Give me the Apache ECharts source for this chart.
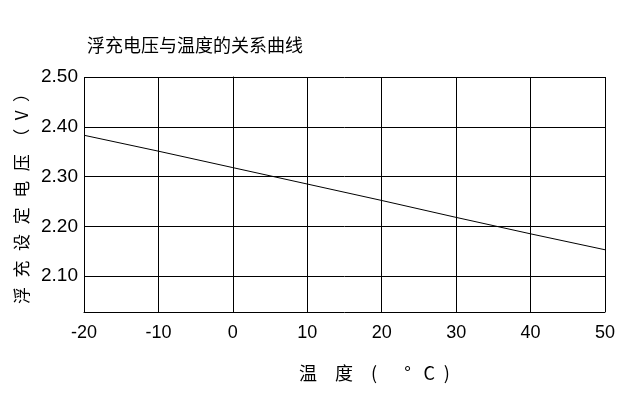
<!DOCTYPE html>
<html>
<head>
<meta charset="utf-8">
<script src="https://cdn.jsdelivr.net/npm/echarts@6/dist/echarts.min.js"></script>
<style>html,body{margin:0;padding:0;background:#fff}#c{width:624px;height:404px}</style>
</head>
<body>
<div id="c"></div>
<script>
var titleText = "浮充电压与温度的关系曲线";
var xAxisName = "温\u3000度\u2003(\u2003\u2002°\u2002\u2009C\u2002)";
var yAxisName = "浮\u2002\u200A充\u2002\u200A设\u2002\u200A定\u2002\u200A电\u2002\u200A压\u2002（\u2002V\u2002）";
var temperatures = [-20, -10, 0, 10, 20, 30, 40, 50];
var voltages = [2.383, 2.351, 2.318, 2.285, 2.252, 2.218, 2.185, 2.153];
var yTicks = [2.10, 2.20, 2.30, 2.40, 2.50];

var cjk = '"Noto Sans CJK SC", "Noto Sans", sans-serif';
var narrow = '"Liberation Sans Narrow", "Liberation Sans", sans-serif';

var chart = echarts.init(document.getElementById('c'), null, {renderer: 'canvas'});
chart.setOption({
  animation: false,
  backgroundColor: '#fff',
  title: {
    text: titleText, left: 82, top: 31,
    textStyle: {fontFamily: cjk, fontSize: 18, fontWeight: 'normal', color: '#000'}
  },
  grid: {left: 84, right: 19, top: 77, bottom: 92, containLabel: false},
  xAxis: {
    type: 'value', min: -20, max: 50, interval: 10,
    name: xAxisName, nameLocation: 'middle', nameGap: 52,
    nameTextStyle: {fontFamily: cjk, fontSize: 18, fontWeight: 'normal', color: '#000', padding: [0, 0, 0, 60]},
    axisLine: {show: true, lineStyle: {color: '#000', width: 1}},
    axisTick: {show: false},
    axisLabel: {color: '#000', fontFamily: narrow, fontSize: 18, margin: 12},
    splitLine: {show: true, lineStyle: {color: '#000', width: 1}}
  },
  yAxis: {
    type: 'value', min: 2.028, max: 2.5,
    name: yAxisName, nameLocation: 'middle', nameGap: 40, nameRotate: 90,
    nameTextStyle: {fontFamily: cjk, fontSize: 17, fontWeight: 'normal', color: '#000', padding: [0, 0, 8, 0]},
    axisLine: {show: true, lineStyle: {color: '#000', width: 1}},
    axisTick: {show: false, customValues: yTicks},
    axisLabel: {color: '#000', fontFamily: narrow, fontSize: 19, margin: 6, customValues: yTicks,
      formatter: function (v) { return v.toFixed(2); }},
    splitLine: {show: true, lineStyle: {color: '#000', width: 1}}
  },
  series: [{
    type: 'line',
    data: temperatures.map(function (t, i) { return [t, voltages[i]]; }),
    showSymbol: false, symbol: 'none', smooth: false,
    lineStyle: {color: '#000', width: 1}
  }]
});
</script>
</body>
</html>
